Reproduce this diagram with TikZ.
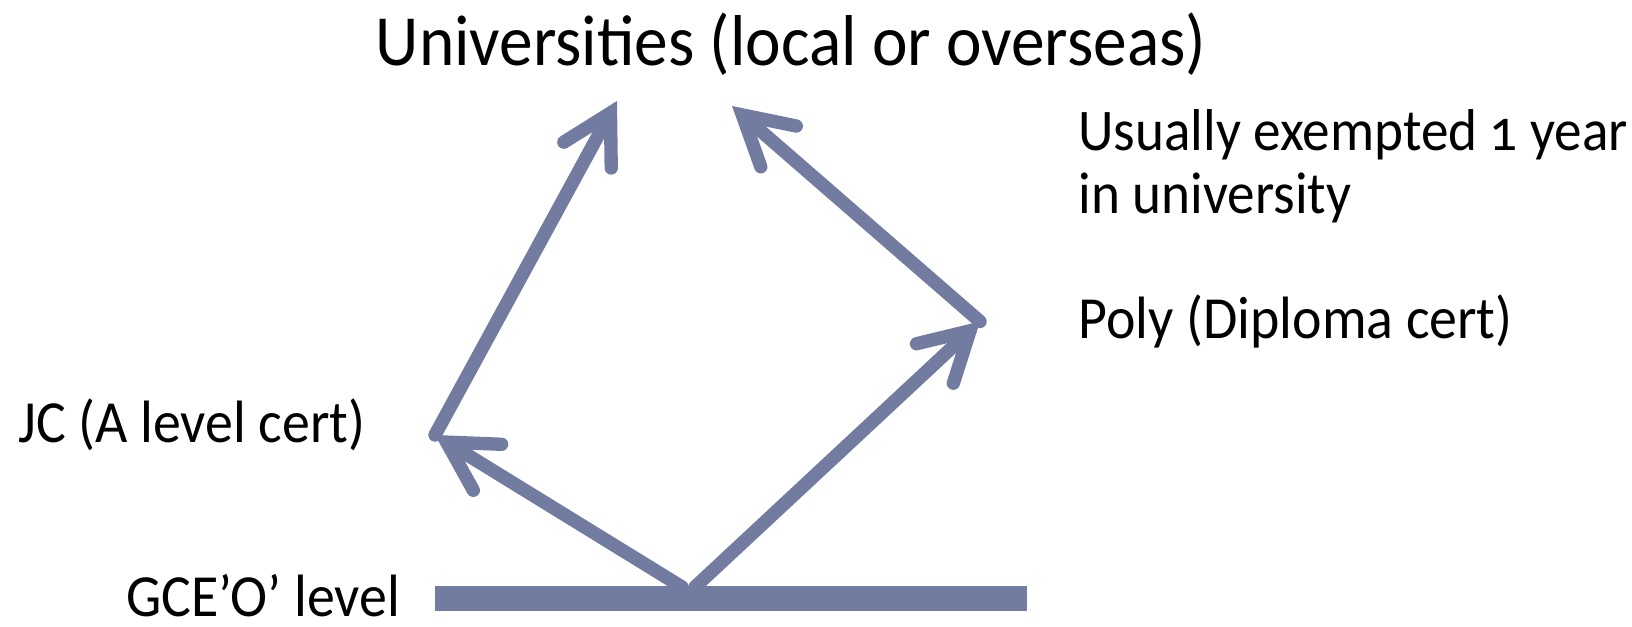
\documentclass[tikz,border=0pt]{standalone}
\usepackage{fontspec}
\setmainfont[FakeStretch=0.935]{Carlito}
\usetikzlibrary{arrows.meta}
\definecolor{pathblue}{RGB}{114,123,160}

\begin{document}
\begin{tikzpicture}[font=\fontsize{17}{21}\selectfont,
    route/.style={line width=3.8pt, pathblue, line cap=round,
      arrows={-Straight Barb[length=4.8mm, width=5.4mm, line cap=round, line join=miter]}}]

    \useasboundingbox (0,0) rectangle (16.32,6.27);

    % --- Textos ---
    \node (uni) at (7.91,5.83) {\fontsize{20.5}{24}\selectfont Universities (local or overseas)};
    \node[anchor=west, align=left, font=\fontsize{16.8}{18}\selectfont] (note) at (10.66,4.61)
        {Usually exempted {\addfontfeatures{Numbers=OldStyle}1} year\\in university};
    \node[anchor=west] (poly) at (10.66,3.06) {Poly (Diploma cert)};
    \node[anchor=west] (jc) at (0.06,2.02) {JC (A level cert)};
    \node[anchor=west, inner sep=1pt] (gce) at (1.22,0.31) {GCE’O’ level};

    % --- Barra del nivel O ---
    \coordinate (barL) at (4.35,0.285);
    \coordinate (barR) at (10.27,0.285);
    \draw[line width=0.25cm, pathblue] (barL) -- (barR);

    % Puntos de salida y puntas de flecha
    \coordinate (outjc) at (6.82,0.40);
    \coordinate (outpoly) at (6.95,0.40);
    \coordinate (jctip) at (4.35,1.92);
    \coordinate (polytip) at (9.80,3.055);
    \coordinate (unileft) at (6.17,5.26);
    \coordinate (uniright) at (7.32,5.21);

    % --- Rutas ---
    \draw[route] (outjc) -- (jctip);
    \draw[route] (jctip) -- (unileft);
    \draw[route] (outpoly) -- (polytip);
    \draw[route] (polytip) -- (uniright);

\end{tikzpicture}
\end{document}
